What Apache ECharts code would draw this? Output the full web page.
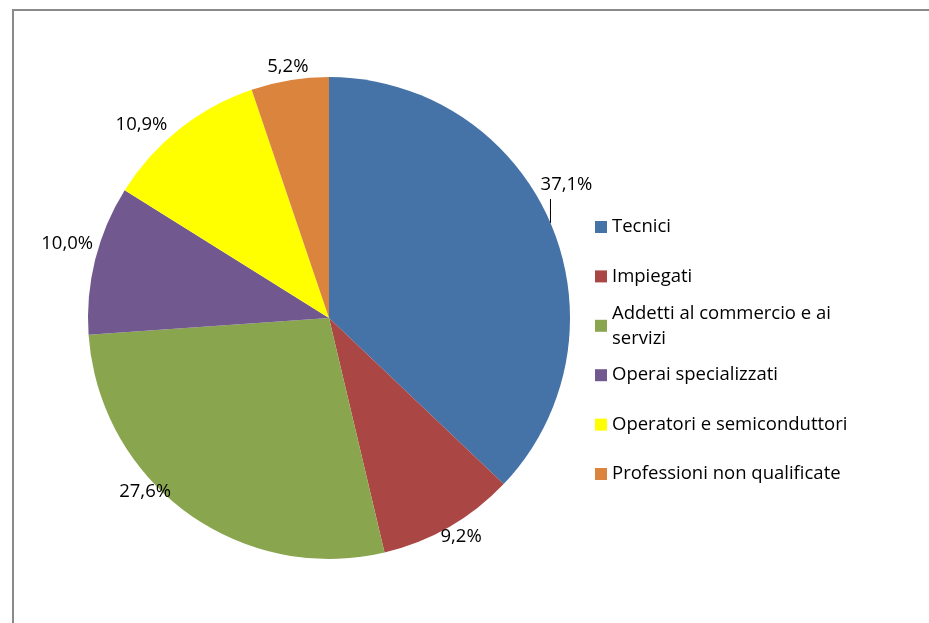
<!DOCTYPE html>
<html>
<head>
<meta charset="utf-8">
<script src="https://cdn.jsdelivr.net/npm/echarts@6/dist/echarts.min.js"></script>
<style>
    html, body { margin: 0; padding: 0; background: #fff; }
    #pieChart { width: 929px; height: 623px; }
</style>
</head>
<body>
<div id="pieChart"></div>
<script>
const categories = [
    "Tecnici",
    "Impiegati",
    "Addetti al commercio e ai servizi",
    "Operai specializzati",
    "Operatori e semiconduttori",
    "Professioni non qualificate"
];
const shares = [37.1, 9.2, 27.6, 10.0, 10.9, 5.2];
const colors = ["#4572A7", "#AA4643", "#89A54E", "#71588F", "#FFFF00", "#DB843D"];

const pieChart = echarts.init(document.getElementById("pieChart"));
const font = "'Open Sans', 'Noto Sans', sans-serif";

// spostamenti delle etichette rispetto al bordo della fetta (come in Excel)
const labelNudge = [[16, -38], [12, 10], [-41, -20], [-28, -16], [-38, -4], [-2, -13]];

const legends = categories.map((name, i) => {
    const wrapped = name.length > 30;
    const centerY = 227 + 49.4 * i;
    return {
        data: [name],
        orient: "vertical",
        left: 595,
        top: centerY - 12.5 - (wrapped ? 25 : 0),
        padding: 0,
        icon: "rect",
        itemWidth: 12,
        itemHeight: 12,
        selectedMode: false,
        textStyle: {
            fontFamily: font,
            fontSize: 18.5,
            lineHeight: 25,
            color: "#000",
            width: 250,
            overflow: "break",
            padding: wrapped ? [25, 0, 0, 0] : 0
        }
    };
});

pieChart.setOption({
    animation: false,
    backgroundColor: "#fff",
    color: colors,
    legend: legends,
    graphic: [{
        type: "polyline",
        shape: {points: [[13, 623], [13, 10], [929, 10]]},
        style: {stroke: "#8a8a8a", lineWidth: 2, fill: null}
    }],
    series: [{
        type: "pie",
        center: [329, 318],
        radius: 241,
        startAngle: 90,
        clockwise: true,
        avoidLabelOverlap: false,
        itemStyle: {borderWidth: 0},
        emphasis: {disabled: true},
        label: {
            show: true,
            position: "outside",
            fontFamily: font,
            fontSize: 18.5,
            color: "#000",
            formatter: p => p.value.toFixed(1).replace(".", ",") + "%"
        },
        labelLine: {show: true, length: 10, length2: 0, lineStyle: {opacity: 0}},
        labelLayout: params => {
            const p0 = params.labelLinePoints ? params.labelLinePoints[0] : null;
            if (!p0) return {};
            const [dx, dy] = labelNudge[params.dataIndex];
            const out = {x: p0[0] + dx, y: p0[1] + dy, align: "center", verticalAlign: "middle"};
            if (params.dataIndex === 0) {
                out.labelLinePoints = [[p0[0], p0[1]], [p0[0], p0[1] - 24], [p0[0], p0[1] - 24]];
            }
            return out;
        },
        data: categories.map((name, i) => {
            const item = {name, value: shares[i]};
            if (i === 0) item.labelLine = {lineStyle: {opacity: 1, color: "#000", width: 1}};
            return item;
        })
    }]
});

window.addEventListener("resize", () => pieChart.resize());
</script>
</body>
</html>
